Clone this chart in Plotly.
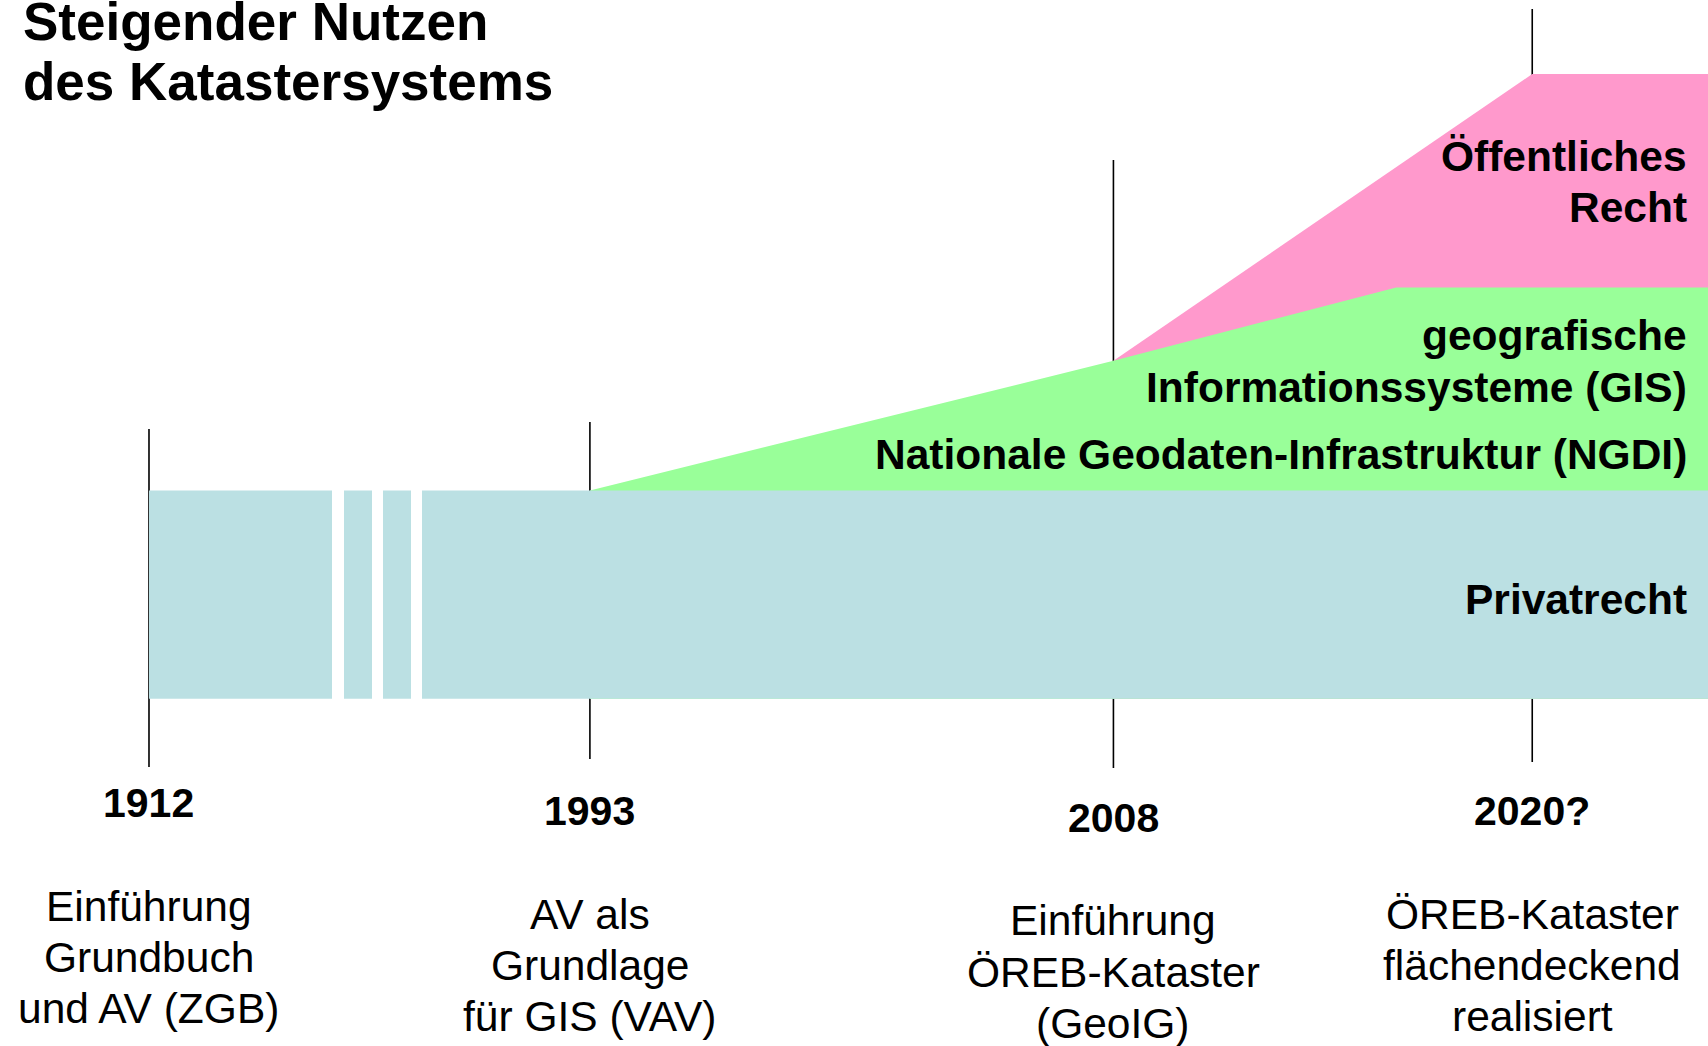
import plotly.graph_objects as go

# ---------------- data ----------------
milestone_years = [1912, 1993, 2008, 2020]
milestone_labels = ["1912", "1993", "2008", "2020?"]
milestone_captions = [
    ["Einführung", "Grundbuch", "und AV (ZGB)"],
    ["AV als", "Grundlage", "für GIS (VAV)"],
    ["Einführung", "ÖREB-Kataster", "(GeoIG)"],
    ["ÖREB-Kataster", "flächendeckend", "realisiert"],
]
# vertical milestone stems (benefit units)
stem_top = [1.295, 1.329, 2.587, 3.312]
stem_bottom = [-0.328, -0.290, -0.333, -0.304]

# Privatrecht band: from 1912 on, level 0..1
priv_start = 1912
priv_level = 1.0
# GIS / NGDI band upper edge
geo_x = [1993, 2008, 2016.1]
geo_y = [1.0, 1.623, 1.975]
# Öffentliches Recht band upper edge
oreb_x = [2008, 2020]
oreb_y = [1.623, 3.0]

title_lines = ["Steigender Nutzen", "des Katastersystems"]
oreb_label = ["Öffentliches", "Recht"]
geo_label = ["geografische", "Informationssysteme (GIS)",
             "Nationale Geodaten-Infrastruktur (NGDI)"]
priv_label = ["Privatrecht"]

# ---------------- layout constants ----------------
W, H = 1708, 1046
FONT = "Liberation Sans, Arial, sans-serif"
BLUE, GREEN, PINK = "#BBE0E3", "#99FF99", "#FF99CC"
END = 2040           # bands run off the right edge
Y_RANGE = [-1.6679, 3.3554]
EARLY_DOMAIN = [0, 332 / W]
EARLY_RANGE = [1907.731, 1917.244]
MAIN_DOMAIN = [422 / W, 1]
MAIN_RANGE = [1988.189, 2025.036]


def py(px):
    return 1 - px / H


def xref_for(year):
    return "x" if year < 1950 else "x2"


fig = go.Figure()

# stems (drawn first, so bands cover them)
for yr, t, b in zip(milestone_years, stem_top, stem_bottom):
    ax = xref_for(yr)
    fig.add_trace(go.Scatter(x=[yr, yr], y=[b, t], mode="lines",
                             line=dict(color="black", width=1.6),
                             xaxis=ax, yaxis="y", hoverinfo="skip"))

# Öffentliches Recht band (lower part hidden under the bands drawn later)
fig.add_trace(go.Scatter(
    x=[oreb_x[0], oreb_x[1], END, END, oreb_x[0]],
    y=[oreb_y[0], oreb_y[1], oreb_y[1], 0, 0],
    fill="toself", fillcolor=PINK, mode="lines", line=dict(width=0),
    xaxis="x2", yaxis="y", hoverinfo="skip"))

# GIS / NGDI band
fig.add_trace(go.Scatter(
    x=geo_x + [END, END, geo_x[0]],
    y=geo_y + [geo_y[-1], 0, 0],
    fill="toself", fillcolor=GREEN, mode="lines", line=dict(width=0),
    xaxis="x2", yaxis="y", hoverinfo="skip"))

# Privatrecht band on both (broken) axes
for ax in ["x", "x2"]:
    fig.add_trace(go.Scatter(
        x=[priv_start, priv_start, END, END],
        y=[0, priv_level, priv_level, 0],
        fill="toself", fillcolor=BLUE, mode="lines", line=dict(width=0),
        xaxis=ax, yaxis="y", hoverinfo="skip"))

# axis-break marks in the band
for x0, x1 in [(344, 372), (383, 411)]:
    fig.add_shape(type="rect", xref="paper", yref="y",
                  x0=x0 / W, x1=x1 / W, y0=0, y1=priv_level,
                  fillcolor=BLUE, line=dict(width=0), layer="above")

ann = []
# title
for txt, ypx in zip(title_lines, [21.0, 82.0]):
    ann.append(dict(text=f"<b>{txt}</b>", x=21 / W, xref="paper", xanchor="left",
                    y=py(ypx), yref="paper", yanchor="middle", showarrow=False,
                    font=dict(family=FONT, size=53, color="black")))

# band labels (right aligned)
band_lines = oreb_label + geo_label + priv_label
band_px = [156.8, 207.5, 335.1, 387.5, 454.1, 599.1]
for txt, ypx in zip(band_lines, band_px):
    ann.append(dict(text=f"<b>{txt}</b>", x=1689 / W, xref="paper", xanchor="right",
                    y=py(ypx), yref="paper", yanchor="middle", showarrow=False,
                    font=dict(family=FONT, size=42.5, color="black")))

# year labels and captions
year_px = [802.8, 811.0, 817.5, 811.0]
cap_px = [906.1, 914.4, 920.9, 914.4]
for yr, lab, cap, ypx, cpx in zip(milestone_years, milestone_labels,
                                  milestone_captions, year_px, cap_px):
    ax = xref_for(yr)
    ann.append(dict(text=f"<b>{lab}</b>", x=yr, xref=ax, xanchor="center",
                    y=py(ypx), yref="paper", yanchor="middle", showarrow=False,
                    font=dict(family=FONT, size=41, color="black")))
    for i, line in enumerate(cap):
        ann.append(dict(text=line, x=yr, xref=ax, xanchor="center",
                        y=py(cpx + i * 51.2), yref="paper", yanchor="middle",
                        showarrow=False,
                        font=dict(family=FONT, size=42.5, color="black")))

fig.update_layout(
    width=W, height=H,
    margin=dict(l=0, r=0, t=0, b=0),
    paper_bgcolor="white", plot_bgcolor="white",
    showlegend=False, hovermode=False,
    annotations=ann,
    xaxis=dict(domain=EARLY_DOMAIN, range=EARLY_RANGE, visible=False,
               fixedrange=True, anchor="y"),
    xaxis2=dict(domain=MAIN_DOMAIN, range=MAIN_RANGE, visible=False,
                fixedrange=True, anchor="y"),
    yaxis=dict(domain=[0, 1], range=Y_RANGE, visible=False, fixedrange=True),
)

fig.write_html(
    "out.html",
    config={"displayModeBar": False},
    post_script="document.body.style.margin='0';"
                "document.body.style.overflow='hidden';",
)
